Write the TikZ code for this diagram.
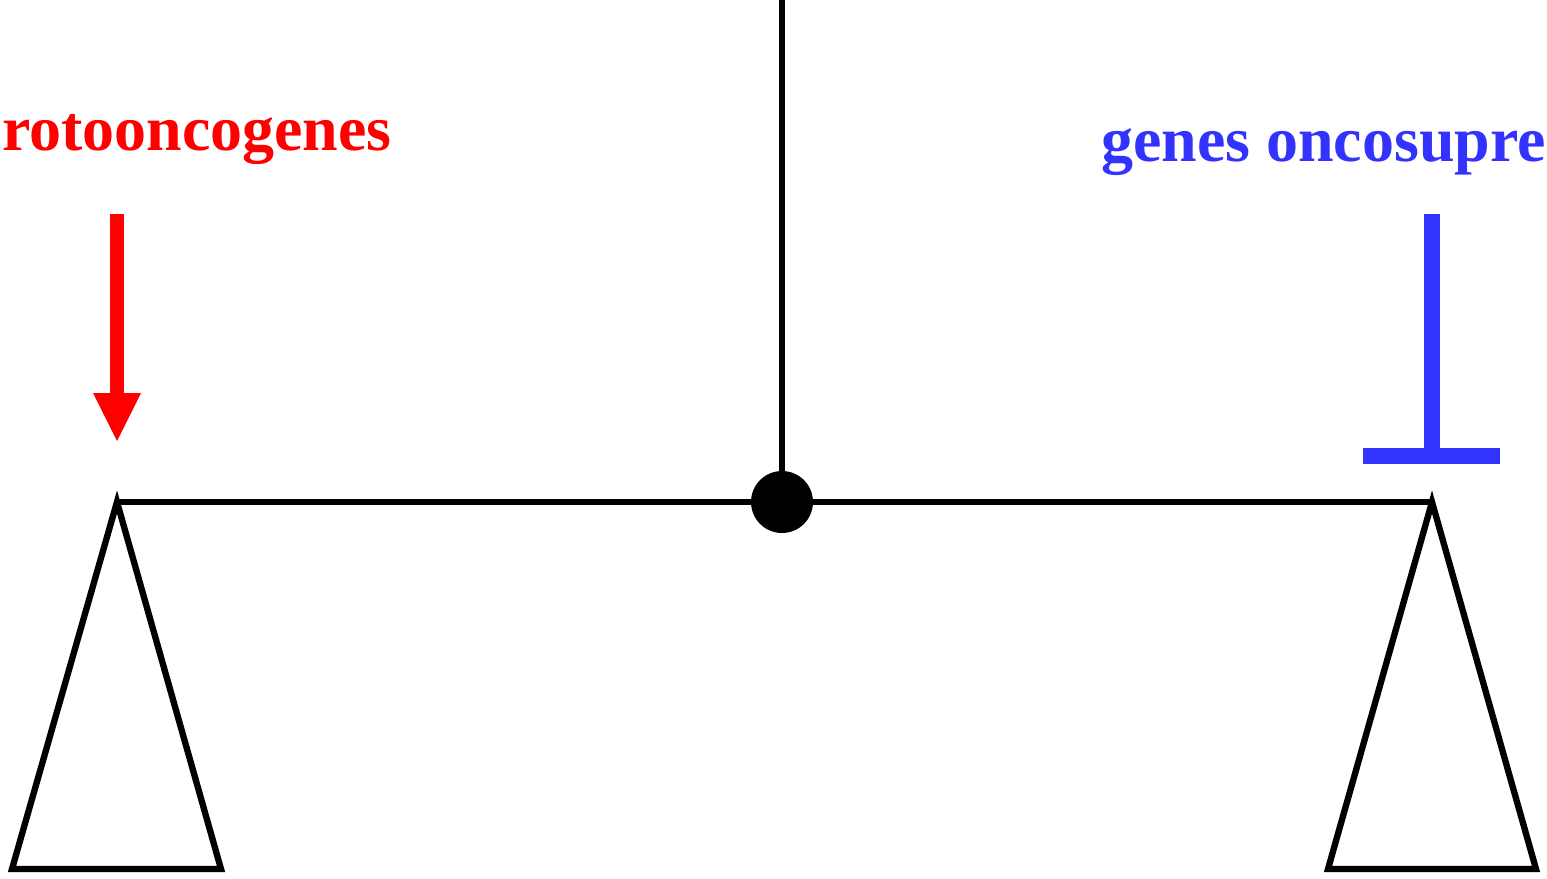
\documentclass[tikz,border=0pt]{standalone}
\usepackage{fontspec}
\setmainfont{Liberation Serif}
\definecolor{protored}{HTML}{FF0000}
\definecolor{supblue}{HTML}{3333FF}
\tikzset{
  beam/.style={line width=9pt, black},
  pan/.style={line width=9pt, black, line join=miter},
  lbl/.style={font=\fontsize{91}{100}\selectfont\bfseries, inner sep=0pt, anchor=base west},
}
\begin{document}
\begin{tikzpicture}[x=0.05cm, y=-0.05cm]
\useasboundingbox (0,0) rectangle (1547,879);
% stand
\coordinate (top) at (782,0);
\node[circle, fill=black, minimum size=62*1.4226pt, inner sep=0pt] (pivot) at (782,502) {};
\draw[line width=8.5pt] (top) -- (pivot.center);
% beam
\coordinate (lend) at (117,502);
\coordinate (rend) at (1432,502);
\draw[beam] (lend) -- (rend);
% pans
\coordinate (lbl0) at (12,869);
\coordinate (lbr0) at (221,869);
\coordinate (rbl0) at (1328,869);
\coordinate (rbr0) at (1536,869);
\draw[pan] (lend) -- (lbr0) -- (lbl0) -- cycle;
\draw[pan] (rend) -- (rbr0) -- (rbl0) -- cycle;
% labels
\node[lbl, text=protored] (proto) at (2,151) {rotooncogenes};
\node[lbl, text=supblue, anchor=base east] (supp) at (1546,162) {genes oncosupre};
% red arrow
\coordinate (ra0) at (117,214);
\coordinate (ra1) at (117,395);
\coordinate (ratip) at (117,441);
\draw[protored, line width=20pt] (ra0) -- (ra1);
\fill[protored] (93,393) -- (141,393) -- (ratip) -- cycle;
% blue inhibition
\coordinate (ba0) at (1432,214);
\coordinate (ba1) at (1432,456);
\coordinate (bl) at (1363,456);
\coordinate (br) at (1500,456);
\draw[supblue, line width=22pt] (ba0) -- (ba1);
\draw[supblue, line width=22.5pt] (bl) -- (br);
\end{tikzpicture}
\end{document}
